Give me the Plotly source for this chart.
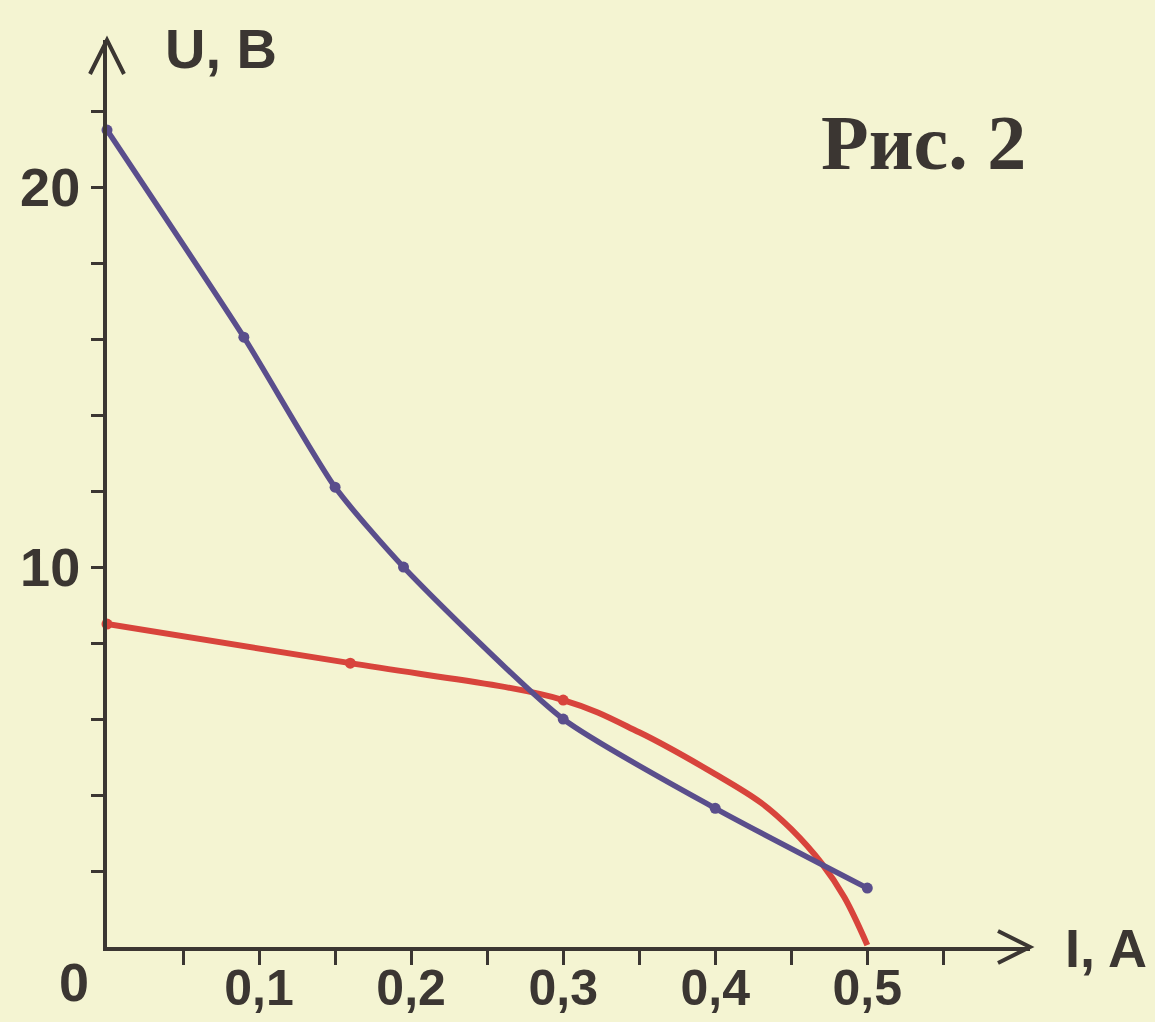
import plotly.graph_objects as go

# ---- data ----
blue_I = [0.0, 0.09, 0.15, 0.195, 0.3, 0.4, 0.5]
blue_U = [21.5, 16.05, 12.1, 10.0, 6.0, 3.65, 1.55]

red_I = [0.0, 0.16, 0.3, 0.35, 0.4, 0.43, 0.45, 0.47, 0.485, 0.5]
red_U = [8.5, 7.47, 6.5, 5.65, 4.55, 3.8, 3.1, 2.2, 1.3, 0.05]
red_mark_I = [0.0, 0.16, 0.3]
red_mark_U = [8.5, 7.47, 6.5]

x_tickvals = [0.05, 0.1, 0.15, 0.2, 0.25, 0.3, 0.35, 0.4, 0.45, 0.5, 0.55]
x_ticktext = ["", "0,1", "", "0,2", "", "0,3", "", "0,4", "", "0,5", ""]
y_tickvals = [2, 4, 6, 8, 10, 12, 14, 16, 18, 20, 22]
y_ticktext = ["", "", "", "", "10", "", "", "", "", "20", ""]

X_MAX = 0.607
Y_MAX = 23.87

BG = "#f4f4d2"
INK = "#3b3632"
BLUE = "#5a4e8c"
RED = "#d8443c"
FONT = "Liberation Sans, Arial, sans-serif"

ML, MR, MT, MB = 107, 125, 40, 75
PW, PH = 1155 - ML - MR, 1022 - MT - MB

fig = go.Figure()
fig.add_trace(go.Scatter(x=red_I, y=red_U, mode="lines",
                         line=dict(color=RED, width=6, shape="spline", smoothing=1.0),
                         hoverinfo="skip", cliponaxis=False))
fig.add_trace(go.Scatter(x=red_mark_I, y=red_mark_U, mode="markers",
                         marker=dict(color=RED, size=11), cliponaxis=False))
fig.add_trace(go.Scatter(x=blue_I, y=blue_U, mode="lines+markers",
                         line=dict(color=BLUE, width=5.5, shape="spline", smoothing=0.6),
                         marker=dict(color=BLUE, size=11), cliponaxis=False))

fig.update_layout(
    width=1155, height=1022, autosize=False,
    margin=dict(l=ML, r=MR, t=MT, b=MB, pad=0),
    paper_bgcolor=BG, plot_bgcolor=BG,
    showlegend=False,
    font=dict(family=FONT, color=INK, size=54, weight="bold"),
    xaxis=dict(range=[0, X_MAX], showgrid=False, zeroline=False, automargin=False,
               showline=True, linecolor=INK, linewidth=4,
               ticks="outside", ticklen=14, tickwidth=3, tickcolor=INK,
               tickvals=x_tickvals, ticktext=x_ticktext, ticklabelstandoff=-20,
               tickfont=dict(family=FONT, size=50, color=INK, weight="bold"),
               fixedrange=True),
    yaxis=dict(range=[0, Y_MAX], showgrid=False, zeroline=False, automargin=False,
               showline=True, linecolor=INK, linewidth=4,
               ticks="outside", ticklen=12, tickwidth=3, tickcolor=INK,
               tickvals=y_tickvals, ticktext=y_ticktext,
               tickfont=dict(family=FONT, size=54, color=INK, weight="bold"),
               fixedrange=True),
)

# axis arrow heads (open chevrons), paper-referenced so they are not clipped
fig.add_shape(type="path", xref="paper", yref="paper", xsizemode="pixel", ysizemode="pixel",
              xanchor=1, yanchor=0, path="M -32,16 L 0,0 L -32,-16",
              line=dict(color=INK, width=4))
fig.add_shape(type="path", xref="paper", yref="paper", xsizemode="pixel", ysizemode="pixel",
              xanchor=0, yanchor=1, path="M -17,-34 L 0,0 L 17,-34",
              line=dict(color=INK, width=4))

def px2paper(px, py):
    return (px - ML) / PW, (1022 - MB - py) / PH

for text, (px, py), fnt in [
    ("U, B", (221, 48), dict(family=FONT, size=56, color=INK, weight="bold")),
    ("I, A", (1106, 948), dict(family=FONT, size=54, color=INK, weight="bold")),
    ("0", (74, 982), dict(family=FONT, size=54, color=INK, weight="bold")),
    ("Рис. 2", (923, 142), dict(family="Liberation Serif, Times New Roman, serif", size=78, color=INK, weight="bold")),
]:
    xp, yp = px2paper(px, py)
    fig.add_annotation(text=text, x=xp, y=yp, xref="paper", yref="paper",
                       showarrow=False, xanchor="center", yanchor="middle", font=fnt)

fig.write_html("out.html", config={"responsive": False, "displayModeBar": False},
               post_script="document.body.style.margin='0';document.body.style.overflow='hidden';")
